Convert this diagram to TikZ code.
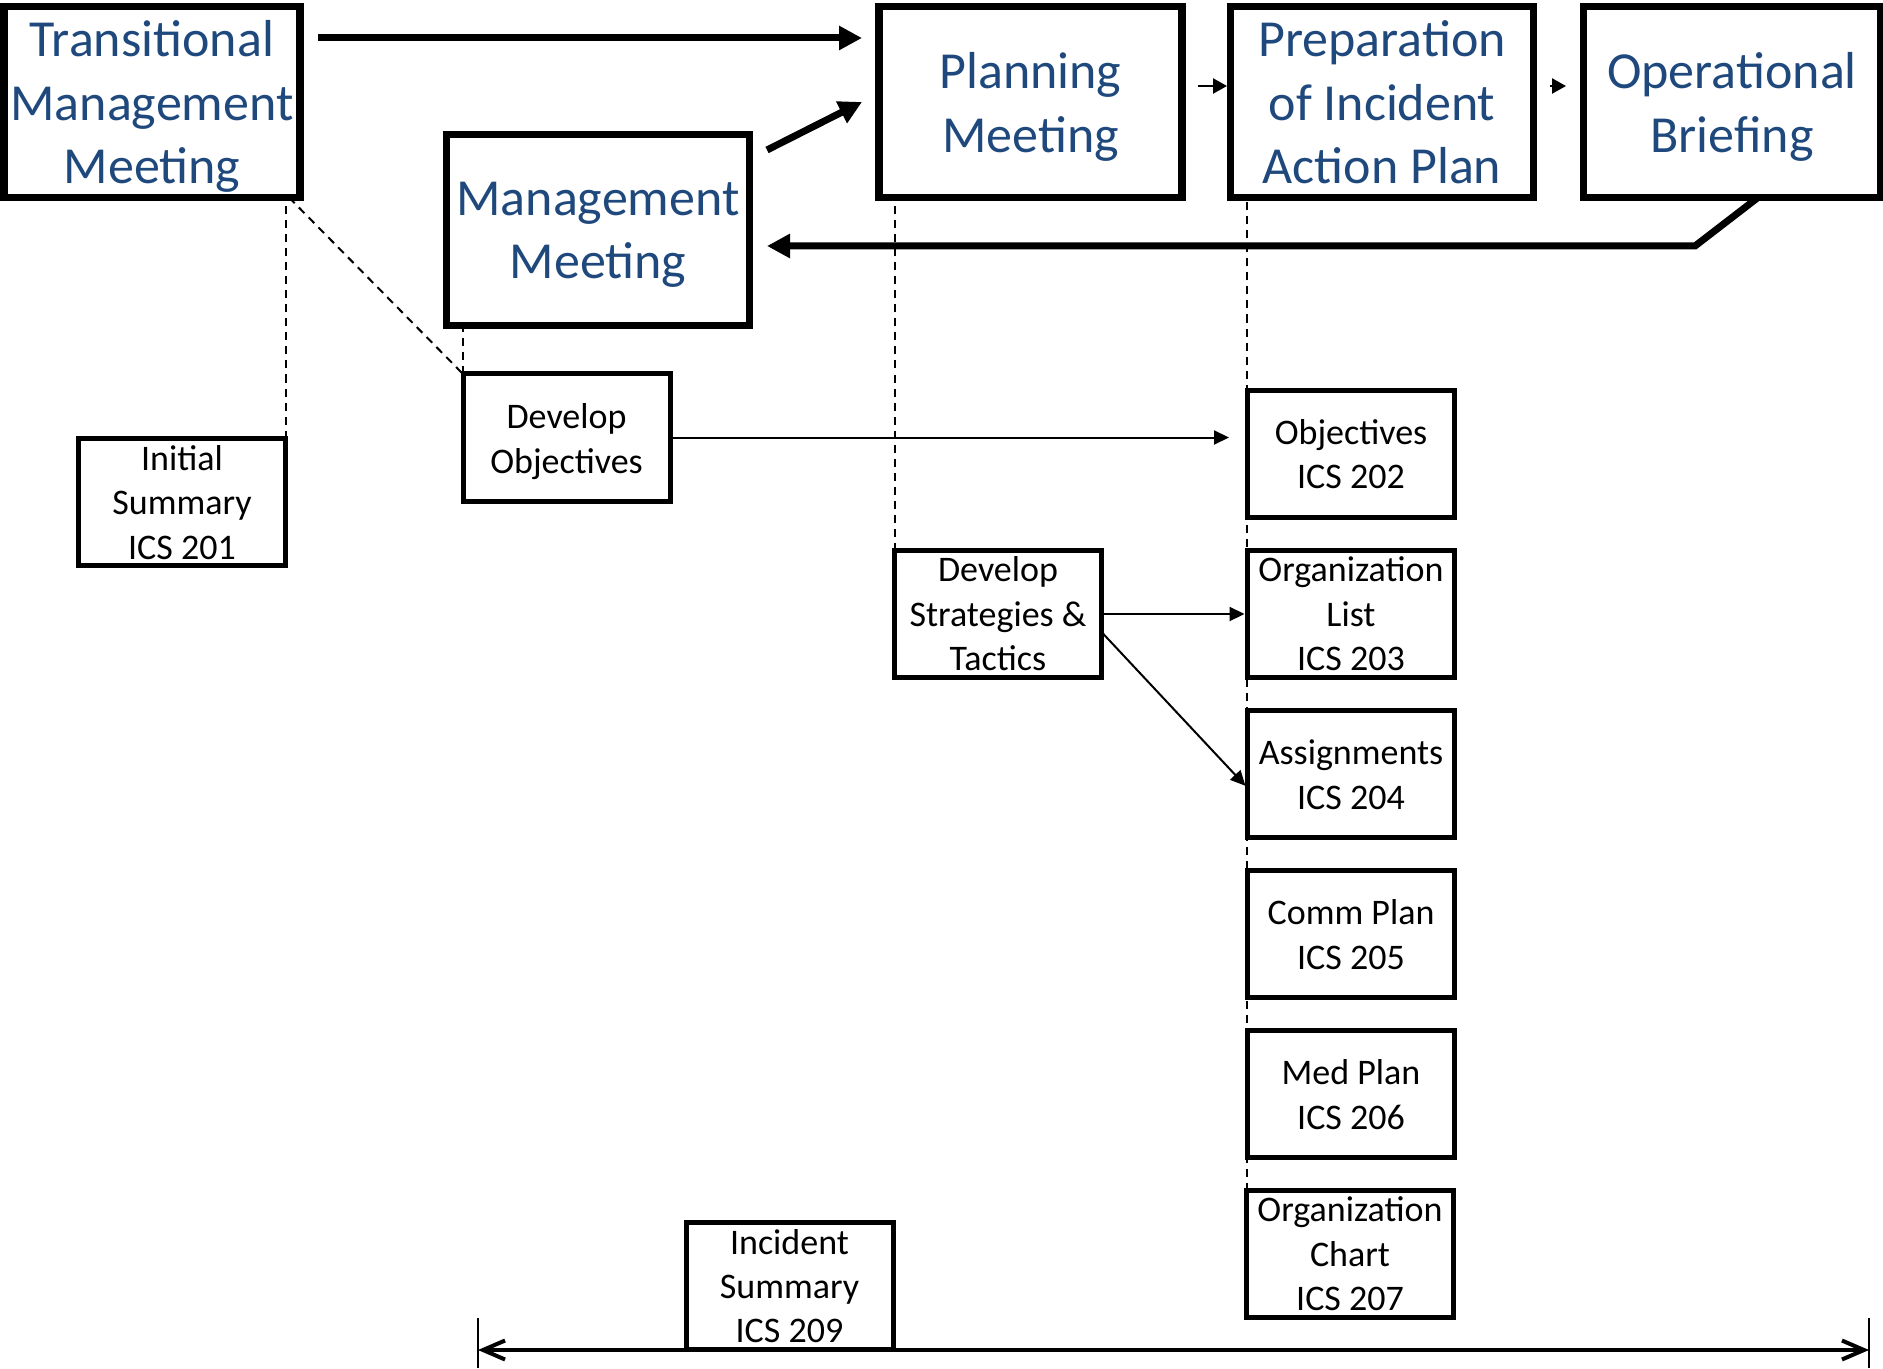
\documentclass[tikz,border=0pt]{standalone}
\usepackage{fontspec}
\setmainfont{Carlito}
\usetikzlibrary{arrows.meta}
\definecolor{tblue}{RGB}{31,73,125}
\newcommand{\mystrut}{\rule[-0.22em]{0pt}{1em}}
\begin{document}
\begin{tikzpicture}[x=0.5pt,y=-0.5pt,
  bigbox/.style={draw, line width=3.75pt, minimum width=151.5pt, minimum height=95.5pt,
    inner sep=0pt, outer sep=0pt},
  smallbox/.style={draw, line width=2.5pt, minimum width=103.5pt, minimum height=63.5pt,
    inner sep=0pt, outer sep=0pt},
  bigtxt/.style={inner sep=0pt, align=center, text=tblue,
    font=\fontsize{26}{31.7}\selectfont,
    execute at begin node=\mystrut, execute at end node=\mystrut},
  smalltxt/.style={inner sep=0pt, align=center,
    font=\fontsize{18}{22.2}\selectfont,
    execute at begin node=\mystrut, execute at end node=\mystrut},
  bigarrow/.style={line width=3.5pt, -{Triangle[length=11.5pt,width=11.5pt]}},
  thinarrow/.style={line width=1pt, -{Triangle[length=7.5pt,width=7pt]}},
  smallarrow/.style={line width=1.2pt, -{Triangle[length=7pt,width=7.5pt]}},
  guide/.style={line width=1pt, dash pattern=on 4pt off 3pt},
  barline/.style={line width=1pt},
]
\useasboundingbox (0,0) rectangle (1883,1369);

% top row boxes
\node[bigbox, minimum width=148pt] (tmm) at (152,102) {};
\node[bigbox] (pm) at (1030.5,102) {};
\node[bigbox] (prep) at (1382,102) {};
\node[bigbox, minimum width=148.5pt] (ob) at (1732,102) {};
\node[bigbox] (mm) at (598,230) {};
\node[bigtxt] (tmmt) at ([yshift=-3pt]tmm.center) {Transitional\\Management\\Meeting};
\node[bigtxt] (pmt) at ([yshift=-3pt]pm.center) {Planning\\Meeting};
\node[bigtxt] (prept) at ([yshift=-3pt]prep.center) {Preparation\\of Incident\\Action Plan};
\node[bigtxt] (obt) at ([yshift=-3pt]ob.center) {Operational\\Briefing};
\node[bigtxt] (mmt) at ([yshift=-3pt]mm.center) {Management\\Meeting};

% small boxes
\node[smallbox] (devobj) at (566.5,437.5) {};
\node[smallbox] (is201) at (182,502) {};
\node[smallbox] (obj202) at (1351,453.5) {};
\node[smallbox] (dst) at (998,614) {};
\node[smallbox] (ol203) at (1351,614) {};
\node[smallbox] (as204) at (1351,774) {};
\node[smallbox] (cp205) at (1351,934) {};
\node[smallbox] (mp206) at (1351,1094) {};
\node[smallbox] (oc207) at (1350,1254) {};
\node[smallbox] (is209) at (789.5,1285.5) {};
\node[smalltxt] (devobjt) at ([yshift=-2.5pt]devobj.center) {Develop\\Objectives};
\node[smalltxt] (is201t) at ([yshift=-2.2pt]is201.center) {Initial\\Summary\\ICS 201};
\node[smalltxt] (obj202t) at ([yshift=-2.2pt]obj202.center) {Objectives\\ICS 202};
\node[smalltxt] (dstt) at ([yshift=-1.8pt]dst.center) {Develop\\Strategies \&\\Tactics};
\node[smalltxt] (ol203t) at ([yshift=-1.8pt]ol203.center) {Organization\\List\\ICS 203};
\node[smalltxt] (as204t) at ([yshift=-2.2pt]as204.center) {Assignments\\ICS 204};
\node[smalltxt] (cp205t) at ([yshift=-2.2pt]cp205.center) {Comm Plan\\ICS 205};
\node[smalltxt] (mp206t) at ([yshift=-2.2pt]mp206.center) {Med Plan\\ICS 206};
\node[smalltxt] (oc207t) at ([yshift=-1.8pt]oc207.center) {Organization\\Chart\\ICS 207};
\node[smalltxt] (is209t) at ([yshift=-2.2pt]is209.center) {Incident\\Summary\\ICS 209};

% dashed guides
\draw[guide] (is201.north east) -- (is201.north east |- tmm.south);
\draw[guide] ([xshift=-5.5pt]tmm.south east) -- (devobj.north west);
\draw[guide] (devobj.north west) -- (devobj.north west |- mm.south);
\draw[guide] (dst.north west) -- (dst.north west |- pm.south);
\draw[guide] (oc207.north west) -- (oc207.north west |- prep.south);

% thick arrows
\draw[bigarrow, shorten <=9pt, shorten >=8.5pt]
  ([yshift=32pt]tmm.east) -- ([yshift=32pt]tmm.east -| pm.west);
\draw[bigarrow] ([xshift=8.75pt,yshift=40pt]mm.east) -- ([xshift=-8.5pt]pm.west);
\coordinate (fbk) at (1695,246);
\draw[bigarrow, shorten >=8.75pt, line join=miter]
  ([xshift=13pt]ob.south) -- (fbk) -- (fbk -| mm.east);

% small arrows between top boxes
\draw[smallarrow, shorten <=8pt, shorten >=1.75pt]
  ([yshift=8pt]pm.east) -- ([yshift=8pt]pm.east -| prep.west);
\draw[smallarrow, shorten <=8.25pt, shorten >=8.75pt]
  ([yshift=8pt]prep.east) -- ([yshift=8pt]prep.east -| ob.west);

% thin arrows
\draw[thinarrow, shorten >=9.25pt] (devobj.east) -- (devobj.east -| obj202.west);
\draw[thinarrow, shorten >=1.5pt] (dst.east) -- (ol203.west);
\draw[thinarrow, shorten >=1.5pt] ([yshift=-9pt]dst.east) -- ([yshift=-7pt]as204.west);

% bottom timeline
\coordinate (tl) at (478,1350);
\coordinate (tr) at (1869,1350);
\draw[line width=2pt, {Straight Barb[length=11pt,width=9.5pt]}-{Straight Barb[length=11pt,width=9.5pt]}]
  (tl) -- (tr);
\draw[barline] ([yshift=16pt]tl) -- ([yshift=-9pt]tl);
\draw[barline] ([yshift=16pt]tr) -- ([yshift=-9pt]tr);
\end{tikzpicture}
\end{document}
